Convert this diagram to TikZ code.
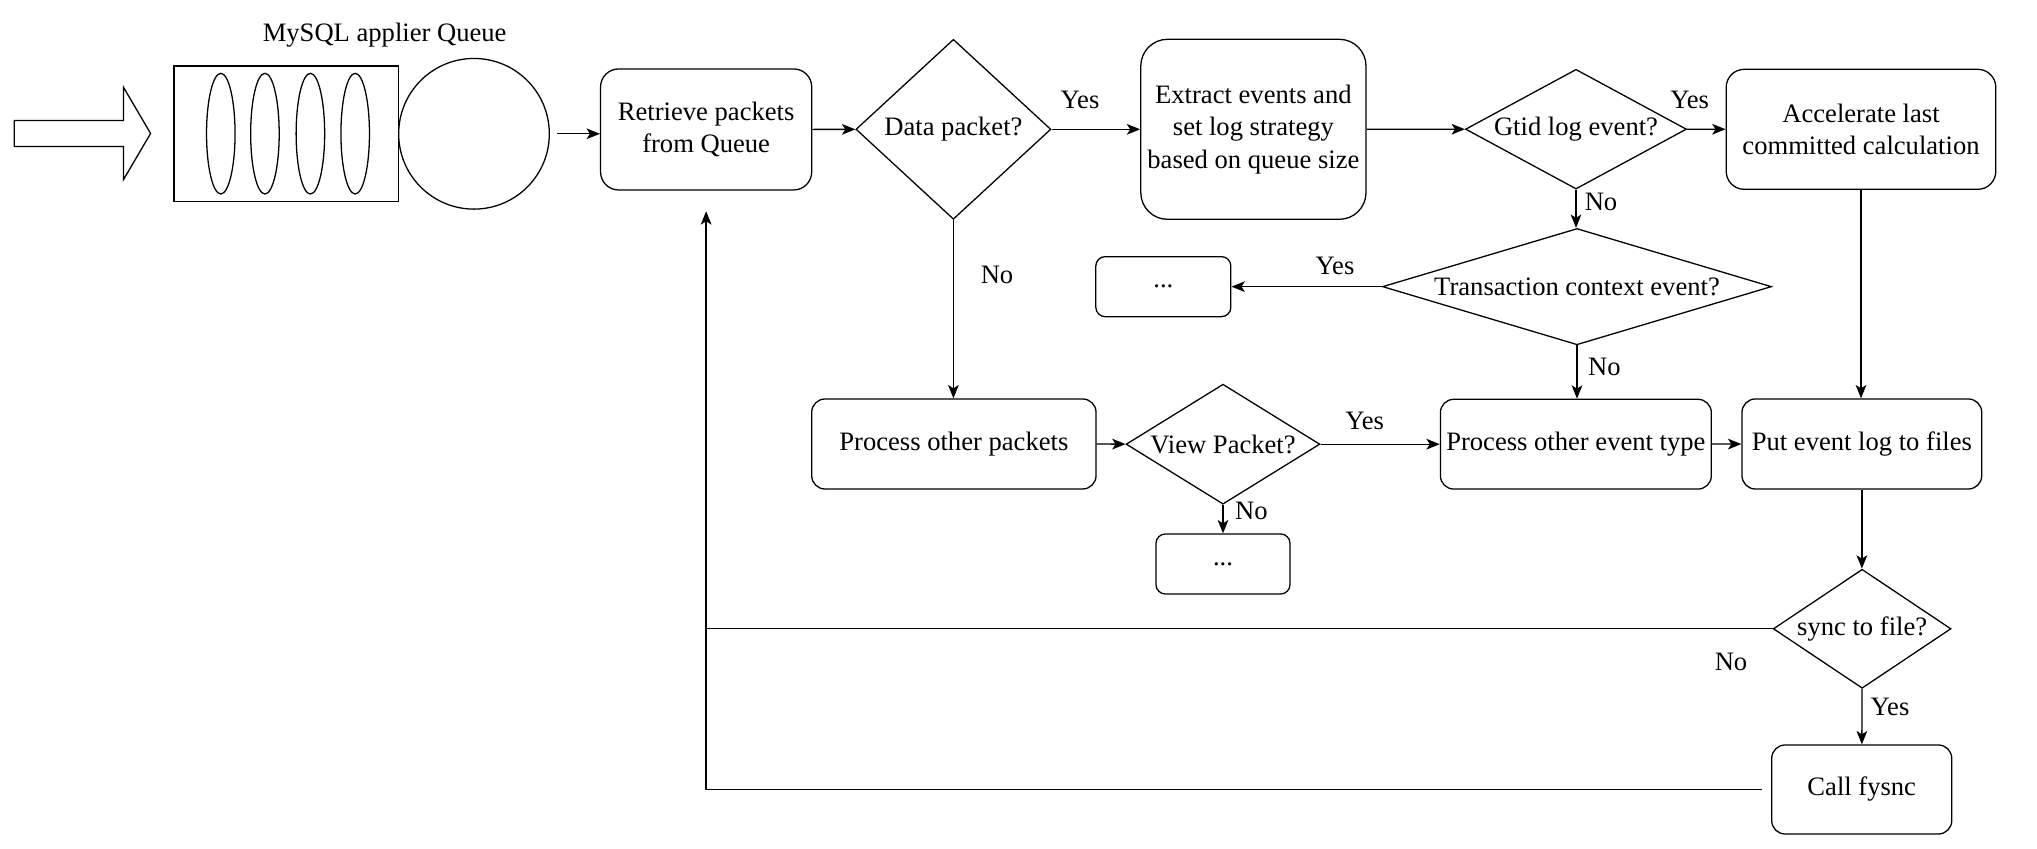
\documentclass[tikz,border=0pt]{standalone}
\usepackage{fontspec}
\setmainfont{Liberation Serif}
\usetikzlibrary{shapes.geometric,arrows.meta}

\begin{document}
\begin{tikzpicture}[every node/.style={font=\fontsize{11.35}{13.8}\selectfont, align=center, inner sep=0pt},
  proc/.style={draw, rounded corners=#1},
  proc/.default=0.2cm,
  decide/.style={draw, diamond},
  flow/.style={-{Stealth[length=2mm,width=1.6mm,inset=0.5mm]}},
  line width=0.55pt]
\useasboundingbox (0,0) rectangle (30.555,12.735);

\node (title) at (5.77,12.21) {MySQL applier Queue};
\draw (0.215,10.538) -- (1.851,10.538) -- (1.851,10.038) -- (2.259,10.733) -- (1.851,11.428) -- (1.851,10.928) -- (0.215,10.928) -- cycle;
\node[draw, minimum width=3.369cm, minimum height=2.036cm] (queue) at (4.295,10.728) {};
\foreach \x in {3.312,3.974,4.656,5.328}
  \draw (\x,10.73) ellipse (0.214 and 0.905);
\node[draw, circle, minimum size=2.26cm] (head) at (7.11,10.728) {};

\node[proc=0.27cm, minimum width=3.167cm, minimum height=1.815cm] (retrieve) at (10.592,10.793) {Retrieve packets\\from Queue};
\node[decide, aspect=1.083, minimum width=2.925cm, minimum height=2.7cm] (data) at (14.301,10.795) {Data packet?};
\node[proc=0.4cm, minimum width=3.378cm, minimum height=2.7cm] (extract) at (18.801,10.795) {Extract events and\\set log strategy\\based on queue size};
\node[decide, aspect=1.846, minimum width=3.315cm, minimum height=1.796cm] (gtid) at (23.64,10.797) {Gtid log event?};
\node[proc=0.27cm, minimum width=4.044cm, minimum height=1.8cm] (accel) at (27.915,10.795) {Accelerate last\\committed calculation};

\node[decide, aspect=3.34, minimum width=5.835cm, minimum height=1.745cm] (trans) at (23.655,8.435) {Transaction context event?};
\node[proc=0.14cm, minimum width=2.025cm, minimum height=0.9cm] (dotsA) at (17.45,8.435) {...};

\node[proc, minimum width=4.265cm, minimum height=1.35cm] (procpk) at (14.308,6.075) {Process other packets};
\node[decide, aspect=1.615, minimum width=2.907cm, minimum height=1.8cm] (view) at (18.345,6.072) {View Packet?};
\node[proc, minimum width=4.064cm, minimum height=1.346cm] (procev) at (23.638,6.072) {Process other event type};
\node[proc, minimum width=3.596cm, minimum height=1.35cm] (put) at (27.928,6.075) {Put event log to files};
\node[proc=0.14cm, minimum width=2.01cm, minimum height=0.9cm] (dotsB) at (18.345,4.275) {...};

\node[decide, aspect=1.49, minimum width=2.666cm, minimum height=1.785cm] (sync) at (27.932,3.303) {sync to file?};
\node[proc, minimum width=2.7cm, minimum height=1.335cm] (fsync) at (27.926,0.8925) {Call fysnc};

\node (yesA) at (16.2,11.235) {Yes};
\node (noA) at (14.955,8.61) {No};
\node (yesB) at (25.344,11.235) {Yes};
\node (noB) at (24.015,9.71) {No};
\node (yesC) at (20.025,8.75) {Yes};
\node (noC) at (24.065,7.235) {No};
\node (yesD) at (20.47,6.42) {Yes};
\node (noD) at (18.77,5.07) {No};
\node (noE) at (25.965,2.81) {No};
\node (yesE) at (28.35,2.133) {Yes};

\draw[flow] ([xshift=0.1cm]head.east) -- (head.east -| retrieve.west);
\draw[flow] (retrieve) -- (data);
\draw[flow] (data) -- (extract);
\draw[flow] (extract) -- (gtid);
\draw[flow] (gtid) -- (accel);
\draw[flow] (gtid.south) -- (gtid.south |- trans.north);
\draw[flow] (trans) -- (dotsA);
\draw[flow] (trans.south) -- (trans.south |- procev.north);
\draw[flow] (data.south) -- (data.south |- procpk.north);
\draw[flow] (procpk) -- (view);
\draw[flow] (view) -- (procev);
\draw[flow] (procev) -- (put);
\draw[flow] (view.south) -- (dotsB.north);
\draw[flow] (accel.south) -- (accel.south |- put.north);
\draw[flow] (put.south) -- (put.south |- sync.north);
\draw[flow] (sync) -- (fsync);
\draw (sync.west) -- (sync.west -| retrieve.south);
\draw[flow, shorten <=0.135cm, shorten >=0.31cm] (fsync.west) -| (retrieve.south);
\end{tikzpicture}
\end{document}
